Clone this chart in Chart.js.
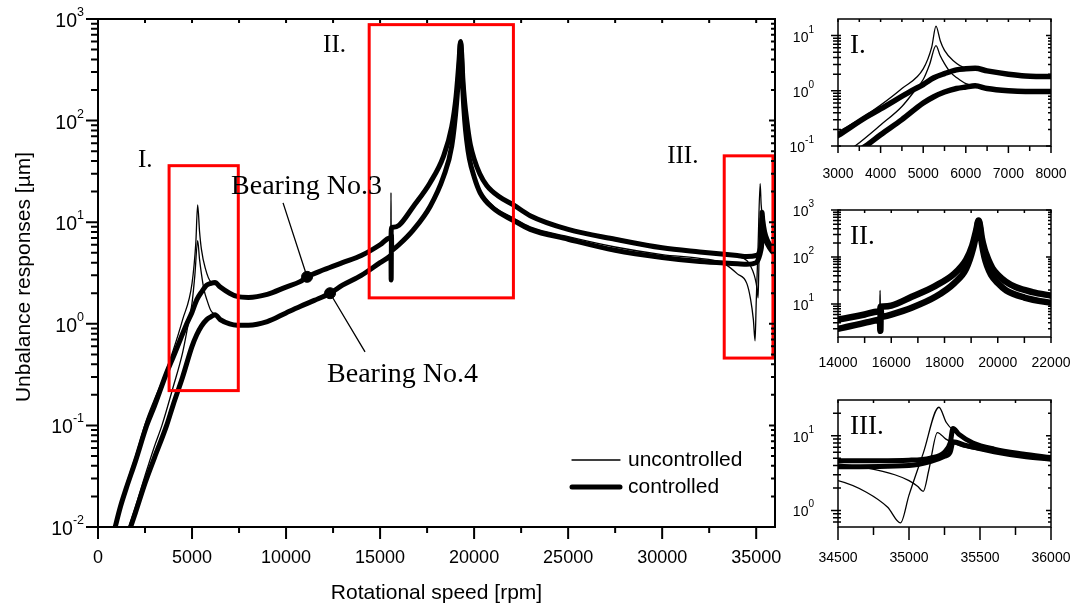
<!DOCTYPE html>
<html><head><meta charset="utf-8">
<script src="https://cdn.jsdelivr.net/npm/chart.js@4.4.1/dist/chart.umd.min.js"></script>
<style>
html,body{margin:0;padding:0;background:#fff;}
#wrap{position:relative;width:1077px;height:611px;overflow:hidden;background:#fff;}
#wrap canvas{position:absolute;left:0;top:0;}
</style></head><body>
<div id="wrap">
<canvas id="cMain" width="1077" height="611"></canvas>
<canvas id="cI" width="1077" height="611"></canvas>
<canvas id="cII" width="1077" height="611"></canvas>
<canvas id="cIII" width="1077" height="611"></canvas>
</div>
<script>
// ---------------- DATA (rpm, response in µm) ----------------
const ctrlB3 = [[850,0.009],[1200,0.016],[1500,0.024],[2000,0.045],[2590,0.1],[3000,0.155],[3650,0.33],[4000,0.47],[4720,1.0],[5000,1.3],[5250,1.72],[5500,2.05],[5780,2.4],[6000,2.5],[6220,2.55],[6500,2.3],[7000,2.0],[7400,1.86],[8000,1.82],[9000,1.95],[10000,2.3],[10745,2.6],[11117,2.9],[12000,3.4],[13000,4.0],[14000,4.7],[15000,6.0],[15500,7.0],[15580,7.2],[15600,8.8],[15700,8.9],[16000,9.3],[16770,14.3],[17660,24.5],[18370,44.5],[18810,87],[19040,173],[19190,370],[19280,600],[19340,450],[19400,260],[19500,150],[19610,100],[19700,75],[19800,58],[20000,42],[20300,30],[20670,23],[21300,18],[22090,14.8],[22980,11.6],[25000,8.5],[27500,6.8],[30000,5.6],[32000,5.1],[34000,4.7],[34500,4.6],[35000,4.7],[35150,5.0],[35250,6.0],[35290,8.0],[35310,12.5],[35350,10.5],[35450,8.0],[35600,6.6],[35800,5.7],[36000,5.1]];
const ctrlB4 = [[1650,0.009],[2000,0.014],[2500,0.027],[3000,0.048],[3650,0.1],[4000,0.16],[4500,0.3],[5000,0.6],[5250,0.78],[5500,0.95],[5780,1.1],[6000,1.17],[6220,1.23],[6500,1.1],[7000,1.0],[7400,0.97],[8000,0.97],[9000,1.05],[10000,1.28],[10745,1.48],[11500,1.7],[12340,2.0],[13000,2.4],[14000,3.0],[15000,4.0],[15500,4.6],[15580,4.75],[15590,2.7],[15605,7.5],[15620,5.3],[15700,5.4],[16000,6.0],[16770,8.4],[17660,14.3],[18370,28],[18810,56],[19070,150],[19200,330],[19280,580],[19340,380],[19400,200],[19500,100],[19600,65],[19750,42],[20000,28],[20320,19.5],[21000,13.8],[22090,10.4],[22980,8.5],[25000,6.8],[27500,5.3],[30000,4.5],[32000,4.1],[34000,3.9],[34500,3.85],[35000,4.0],[35150,4.5],[35250,5.3],[35290,6.0],[35310,8.3],[35400,7.4],[35600,6.1],[35800,5.3],[36000,4.85]];
const uncB3 = [[850,0.0095],[1200,0.017],[1500,0.026],[2000,0.05],[2590,0.115],[3000,0.18],[3500,0.3],[4000,0.55],[4500,1.1],[5000,2.5],[5200,6.2],[5300,14.8],[5400,8.1],[5500,5.4],[5700,3.55],[6000,2.6],[6220,2.55],[6500,2.3],[7000,2.0],[7400,1.86],[8000,1.82],[9000,1.95],[10000,2.3],[10745,2.6],[11117,2.9],[12000,3.4],[13000,4.0],[14000,4.7],[15000,6.0],[15500,7.0],[15570,7.2],[15580,19.5],[15590,8.6],[15700,8.9],[16000,9.3],[16770,14.3],[17660,24.5],[18370,44.5],[18810,87],[19040,173],[19190,370],[19280,600],[19340,450],[19400,260],[19500,150],[19610,100],[19700,75],[19800,58],[20000,42],[20300,30],[20670,23],[21300,18],[22090,14.8],[22980,11.6],[25000,8.5],[27500,6.8],[30000,5.6],[32000,5.1],[33000,4.9],[34000,4.6],[34500,4.2],[34700,3.7],[34900,3.0],[35000,2.5],[35060,2.1],[35100,1.8],[35140,3.5],[35200,11],[35260,9],[35360,7.3],[35500,6.4],[35700,5.6],[36000,5.0]];
const uncB4 = [[1550,0.009],[2000,0.016],[2500,0.032],[3000,0.062],[3400,0.1],[4000,0.24],[4500,0.52],[4800,1.0],[5000,1.6],[5150,3.0],[5300,6.6],[5400,4.3],[5500,3.1],[5630,2.2],[5800,1.7],[6000,1.35],[6220,1.23],[6500,1.1],[7000,1.0],[7400,0.97],[8000,0.97],[9000,1.05],[10000,1.28],[10745,1.48],[11500,1.7],[12340,2.0],[13000,2.4],[14000,3.0],[15000,4.0],[15500,4.6],[15580,4.75],[15590,2.7],[15605,7.5],[15620,5.3],[15700,5.4],[16000,6.0],[16770,8.4],[17660,14.3],[18370,28],[18810,56],[19070,150],[19200,330],[19280,580],[19340,380],[19400,200],[19500,100],[19600,65],[19750,42],[20000,29],[20320,20.5],[21000,14.5],[22090,11],[22980,9],[25000,7.2],[27500,5.7],[30000,4.8],[32000,4.4],[33000,4.1],[33400,3.8],[34000,3.1],[34500,2.5],[34700,1.75],[34850,1.1],[34940,0.68],[35000,1.6],[35100,5.8],[35211,24],[35263,15],[35357,10],[35520,7.3],[35750,5.8],[36000,5.0]];
const bearingMarkers = [[11117,2.9],[12340,2.0]];
const seriesLabels = ['uncontrolled','controlled'];

// tick values / labels
const mainXMajor = [0,5000,10000,15000,20000,25000,30000,35000];
const mainXMinor = [2500,7500,12500,17500,22500,27500,32500];
const mainYMajor = [0.01,0.1,1,10,100,1000];
const mainYExp = ['-2','-1','0','1','2','3'];
const insIXMajor = [3000,4000,5000,6000,7000,8000];
const insIXMinor = [3500,4500,5500,6500,7500];
const insIYMajor = [0.1,1,10];
const insIYExp = ['-1','0','1'];
const insIIXMajor = [14000,16000,18000,20000,22000];
const insIIXMinor = [15000,17000,19000,21000];
const insIIYMajor = [10,100,1000];
const insIIYExp = ['1','2','3'];
const insIIIXMajor = [34500,35000,35500,36000];
const insIIIXMinor = [34750,35250,35750];
const insIIIYMajor = [1,10];
const insIIIYExp = ['0','1'];

// zoom boxes [xmin,xmax,ymin,ymax]
const zoomBoxes = [[3780,7460,0.22,36],[14420,22090,1.8,880],[33300,35890,0.46,45]];

// ---------------- RENDERING ----------------
const SANS = '"Liberation Sans", Arial, Helvetica, sans-serif';
const SERIF = '"Liberation Serif", "Times New Roman", Times, serif';

function minorLog(min, max) {
  const out = [];
  for (let e = Math.floor(Math.log10(min)) - 1; e <= Math.ceil(Math.log10(max)); e++) {
    for (let m = 2; m <= 9; m++) {
      const v = m * Math.pow(10, e);
      if (v > min * 1.0001 && v < max * 0.9999) out.push(v);
    }
  }
  return out;
}

const frames = {};
const extras = {};

const framePlugin = {
  id: 'frame',
  afterDatasetsDraw(chart) {
    const o = frames[chart.canvas.id];
    const ctx = chart.ctx, a = chart.chartArea, xs = chart.scales.x, ys = chart.scales.y;
    ctx.save();
    if (o.boxes) {
      ctx.strokeStyle = '#ff0000'; ctx.lineWidth = 3;
      for (const b of o.boxes) {
        const x1 = xs.getPixelForValue(b[0]), x2 = xs.getPixelForValue(b[1]);
        const y1 = ys.getPixelForValue(b[3]), y2 = ys.getPixelForValue(b[2]);
        ctx.strokeRect(x1, y1, x2 - x1, y2 - y1);
      }
    }
    ctx.strokeStyle = '#000'; ctx.fillStyle = '#000';
    ctx.lineWidth = o.frameW;
    ctx.strokeRect(a.left, a.top, a.right - a.left, a.bottom - a.top);
    ctx.lineWidth = o.tickW;
    ctx.beginPath();
    for (const v of o.xMajor) {
      const p = xs.getPixelForValue(v);
      ctx.moveTo(p, a.bottom); ctx.lineTo(p, a.bottom + o.xMajLen);
      ctx.moveTo(p, a.top); ctx.lineTo(p, a.top + o.inLen);
    }
    for (const v of o.xMinor) {
      const p = xs.getPixelForValue(v);
      ctx.moveTo(p, a.bottom); ctx.lineTo(p, a.bottom + o.xMinLen);
      ctx.moveTo(p, a.top); ctx.lineTo(p, a.top + o.inLen);
    }
    for (const v of o.yMajor) {
      const p = ys.getPixelForValue(v);
      ctx.moveTo(a.left - o.yMajLen, p); ctx.lineTo(a.left + o.yIn, p);
      ctx.moveTo(a.right, p); ctx.lineTo(a.right - o.inLen - 2, p);
    }
    for (const v of minorLog(o.yMin, o.yMax)) {
      const p = ys.getPixelForValue(v);
      ctx.moveTo(a.left - o.yMinLen, p); ctx.lineTo(a.left + o.yIn, p);
      ctx.moveTo(a.right, p); ctx.lineTo(a.right - o.inLen, p);
    }
    ctx.stroke();
    ctx.font = o.fs + 'px ' + SANS;
    ctx.textAlign = 'center'; ctx.textBaseline = 'alphabetic';
    for (let i = 0; i < o.xMajor.length; i++) {
      ctx.fillText(String(o.xMajor[i]), xs.getPixelForValue(o.xMajor[i]), a.bottom + o.xLabDy);
    }
    for (let i = 0; i < o.yMajor.length; i++) {
      const p = ys.getPixelForValue(o.yMajor[i]);
      const xr = a.left - o.yLabDx;
      ctx.textAlign = 'right';
      ctx.font = o.sfs + 'px ' + SANS;
      const sw = ctx.measureText(o.yExp[i]).width;
      ctx.fillText(o.yExp[i], xr, p + o.supDy);
      ctx.font = o.yfs + 'px ' + SANS;
      ctx.fillText('10', xr - sw, p + o.baseDy);
    }
    if (o.roman) {
      ctx.font = o.romanFs + 'px ' + SERIF;
      ctx.textAlign = 'left';
      ctx.fillText(o.roman, a.left + o.romanDx, a.top + o.romanDy);
    }
    const ex = extras[chart.canvas.id];
    if (ex) ex(ctx, a, xs, ys);
    ctx.restore();
  }
};

function lineDS(pts, w) {
  return {
    data: pts.map(p => ({x: p[0], y: p[1]})),
    borderColor: '#000', borderWidth: w, pointRadius: 0, fill: false,
    cubicInterpolationMode: 'monotone', borderJoinStyle: 'round', borderCapStyle: 'round'
  };
}

extras.cMain = function (ctx, a, xs, ys) {
  const P = (v) => [xs.getPixelForValue(v[0]), ys.getPixelForValue(v[1])];
  ctx.lineWidth = 1.3; ctx.strokeStyle = '#000'; ctx.fillStyle = '#000';
  const leaders = [[bearingMarkers[0], [9840, 15.5]], [bearingMarkers[1], [14200, 0.53]]];
  ctx.beginPath();
  for (const l of leaders) { const s = P(l[0]), e = P(l[1]); ctx.moveTo(s[0], s[1]); ctx.lineTo(e[0], e[1]); }
  ctx.stroke();
  ctx.textAlign = 'left'; ctx.textBaseline = 'alphabetic';
  ctx.font = '28px ' + SERIF;
  let p = P([7074, 19.0]); ctx.fillText('Bearing No.3', p[0], p[1]);
  p = P([12180, 0.269]); ctx.fillText('Bearing No.4', p[0], p[1]);
  ctx.font = '25px ' + SERIF;
  p = P([2128, 35]); ctx.fillText('I.', p[0], p[1]);
  p = P([11968, 475]); ctx.fillText('II.', p[0], p[1]);
  p = P([30266, 38.5]); ctx.fillText('III.', p[0], p[1]);
  const lx1 = a.left + 474, lx2 = a.left + 522, ly1 = a.top + 441, ly2 = a.top + 468;
  ctx.lineCap = 'round';
  ctx.lineWidth = 1.3; ctx.beginPath(); ctx.moveTo(lx1, ly1); ctx.lineTo(lx2, ly1); ctx.stroke();
  ctx.lineWidth = 5; ctx.beginPath(); ctx.moveTo(lx1, ly2); ctx.lineTo(lx2, ly2); ctx.stroke();
  ctx.font = '21px ' + SANS; ctx.textBaseline = 'middle';
  ctx.fillText(seriesLabels[0], lx2 + 8, ly1);
  ctx.fillText(seriesLabels[1], lx2 + 8, ly2);
  ctx.textAlign = 'center'; ctx.textBaseline = 'alphabetic';
  ctx.fillText('Rotational speed [rpm]', (a.left + a.right) / 2, 599);
  ctx.save();
  ctx.translate(30, 277); ctx.rotate(-Math.PI / 2);
  ctx.fillText('Unbalance responses [\u00b5m]', 0, 0);
  ctx.restore();
};

function makeChart(id, pad, xr, yr, frame, thickW, withMarkers) {
  const datasets = [lineDS(ctrlB3, thickW), lineDS(ctrlB4, thickW), lineDS(uncB3, 1.3), lineDS(uncB4, 1.3)];
  if (withMarkers) {
    datasets.push({ type: 'scatter', data: bearingMarkers.map(p => ({x: p[0], y: p[1]})), pointRadius: 5.5, pointBackgroundColor: '#000', pointBorderColor: '#000', showLine: false });
  }
  frame.yMin = yr[0]; frame.yMax = yr[1];
  frames[id] = frame;
  return new Chart(document.getElementById(id), {
    type: 'line',
    data: { datasets },
    options: {
      responsive: false, animation: false, events: [],
      layout: { padding: pad },
      scales: {
        x: { type: 'linear', min: xr[0], max: xr[1], display: false },
        y: { type: 'logarithmic', min: yr[0], max: yr[1], display: false }
      },
      plugins: { legend: { display: false }, tooltip: { enabled: false } }
    },
    plugins: [framePlugin]
  });
}

makeChart('cMain', {left: 98, top: 19, right: 302, bottom: 84}, [0, 36000], [0.01, 1000], {
  boxes: zoomBoxes, frameW: 2, tickW: 2, xMajor: mainXMajor, xMinor: mainXMinor,
  xMajLen: 12, xMinLen: 6, inLen: 4, yMajor: mainYMajor, yExp: mainYExp, yMajLen: 12, yMinLen: 7, yIn: 0,
  fs: 18, yfs: 19.5, sfs: 12.5, xLabDy: 36, yLabDx: 14, supDy: -3, baseDy: 8
}, 5, true);

const insFrame = (xMaj, xMin, yMaj, yExp, roman, xMajLen, xMinLen, xLabDy) => ({
  frameW: 1.5, tickW: 1.5, xMajor: xMaj, xMinor: xMin, xMajLen, xMinLen, inLen: 3,
  yMajor: yMaj, yExp, yMajLen: 7, yMinLen: 5, yIn: 3,
  fs: 14, yfs: 14, sfs: 10, xLabDy, yLabDx: 24, supDy: -3, baseDy: 6,
  roman, romanFs: 27, romanDx: 12, romanDy: 34
});

makeChart('cI', {left: 838, top: 19, right: 26, bottom: 465}, [3000, 8000], [0.1, 20],
  insFrame(insIXMajor, insIXMinor, insIYMajor, insIYExp, 'I.', 7, 5, 32), 5.5, false);
makeChart('cII', {left: 838, top: 210, right: 26, bottom: 274}, [14000, 22000], [2, 1000],
  insFrame(insIIXMajor, insIIXMinor, insIIYMajor, insIIYExp, 'II.', 6, 6, 30), 6.5, false);
makeChart('cIII', {left: 838, top: 400, right: 26, bottom: 84}, [34500, 36000], [0.6, 30],
  insFrame(insIIIXMajor, insIIIXMinor, insIIIYMajor, insIIIYExp, 'III.', 13, 8, 35), 5, false);
</script>
</body></html>
